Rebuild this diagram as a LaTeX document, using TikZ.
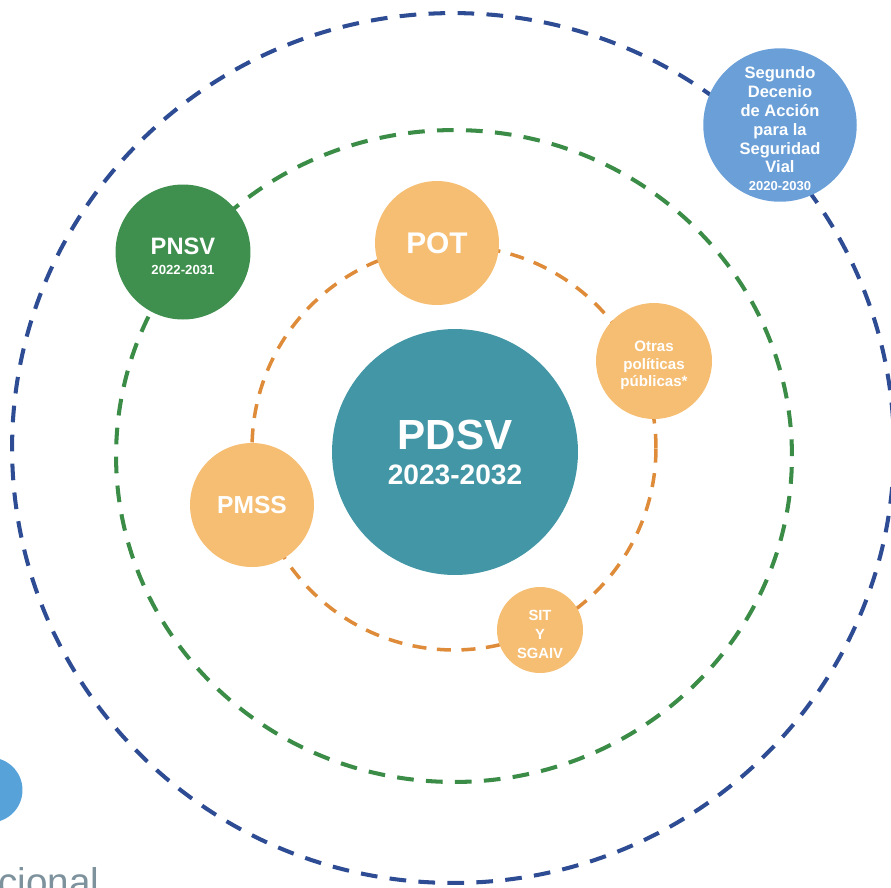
\documentclass[tikz,border=0pt]{standalone}
\usepackage{fontspec}
\setmainfont{Liberation Sans}
\definecolor{tealPDSV}{HTML}{4396A5}
\definecolor{naranja}{HTML}{F5BE73}
\definecolor{naranjaRaya}{HTML}{DE8B3A}
\definecolor{verde}{HTML}{3F8F4E}
\definecolor{verdeRaya}{HTML}{3A8C47}
\definecolor{azul}{HTML}{6A9FD8}
\definecolor{azulRaya}{HTML}{2E4C93}
\definecolor{azulClaro}{HTML}{58A2DA}
\definecolor{gris}{HTML}{7D929C}
\tikzset{
  bola/.style={circle,inner sep=0pt,text=white,align=center,font=\bfseries},
  anillo/.style={line width=2.3pt,dash pattern=on 9.5pt off 7pt},
}
\begin{document}
\begin{tikzpicture}[x=0.02cm,y=-0.02cm]
        \useasboundingbox (0,0) rectangle (891,887);
        \clip (0,0) rectangle (891,887);

        %%%%%%%%%% Anillos %%%%%%%%%%
        \coordinate (Centro) at (453,448);
        \coordinate (CentroV) at (454,456);
        \coordinate (CentroN) at (454,448);
        \draw[anillo,azulRaya] (Centro) ellipse [x radius=8.82cm,y radius=8.7cm];
        \draw[anillo,verdeRaya] (CentroV) ellipse [x radius=6.76cm,y radius=6.52cm];
        \draw[anillo,naranjaRaya,line width=2pt,dash pattern=on 8pt off 6pt] (CentroN) circle [radius=4.04cm];

        %%%%%%%%%% Planes %%%%%%%%%%
        \node[bola,fill=tealPDSV,minimum size=4.92cm,font=\bfseries\fontsize{24}{20}\selectfont] (PDSV) at (455,452)
             {PDSV\\{\fontsize{16}{20}\selectfont 2023-2032}};
        \node[bola,fill=naranja,minimum size=2.48cm,font=\bfseries\fontsize{17}{20}\selectfont] (POT) at (437,243) {POT};
        \node[bola,fill=naranja,minimum size=2.48cm,font=\bfseries\fontsize{14}{16}\selectfont] (PMSS) at (252,505) {PMSS};
        \node[bola,fill=naranja,minimum size=2.32cm,font=\bfseries\fontsize{8.6}{9.8}\selectfont] (Otras) at (654,361)
             {\rule{0pt}{11pt}Otras\\políticas\\públicas*};
        \node[bola,fill=naranja,minimum size=1.72cm,font=\bfseries\fontsize{8.4}{10.6}\selectfont] (SIT) at (540,630)
             {\rule{0pt}{11pt}SIT\\Y\\SGAIV};
        \node[bola,fill=verde,minimum size=2.7cm,font=\bfseries\fontsize{13.5}{11.5}\selectfont] (PNSV) at (183,252)
             {\rule{0pt}{14pt}PNSV\\{\fontsize{7.5}{11.5}\selectfont 2022-2031}};
        \node[bola,fill=azul,minimum size=2.86cm,font=\bfseries\fontsize{9.4}{10.8}\selectfont] (Decenio) at (780,125)
             {\rule{0pt}{10.5pt}Segundo\\Decenio\\de Acción\\para la\\Seguridad\\Vial\\[-1pt]{\fontsize{7.4}{9}\selectfont 2020-2030}};

        %%%%%%%%%% Resto %%%%%%%%%%
        \node[circle,fill=azulClaro,minimum size=1.3cm,inner sep=0pt] (Punto) at (-10,790) {};
        \node[anchor=base west,inner sep=0pt,text=gris,font=\fontsize{22}{26}\selectfont] (Texto) at (-2,895) {cional};
\end{tikzpicture}
\end{document}
